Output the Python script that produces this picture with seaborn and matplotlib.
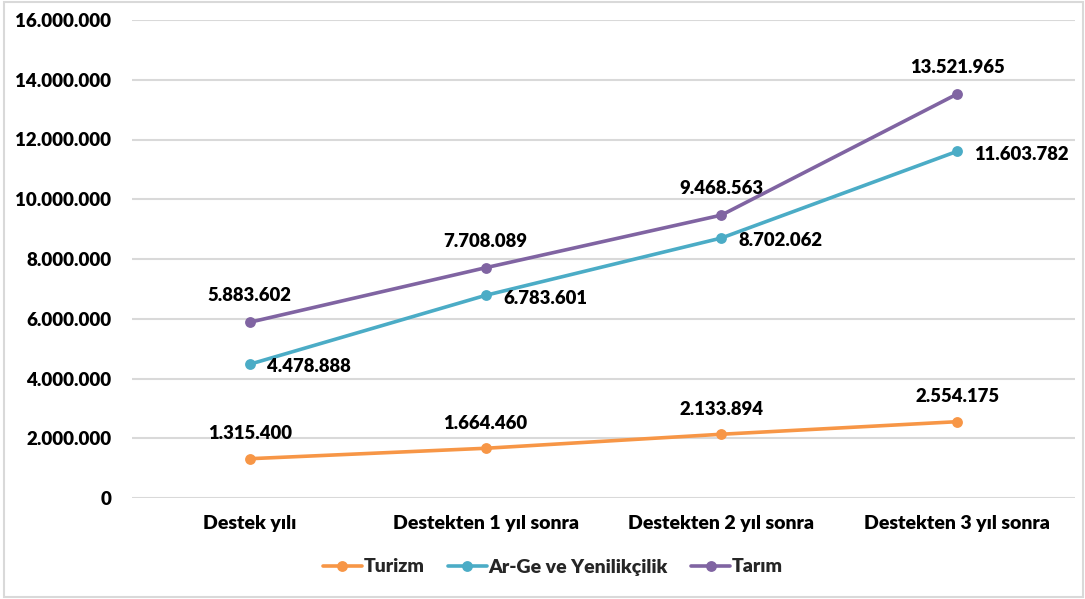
import matplotlib
matplotlib.use("Agg")
import matplotlib.pyplot as plt
import seaborn as sns
import pandas as pd
from matplotlib.patches import Rectangle
from matplotlib.ticker import FuncFormatter

categories = ["Destek yılı", "Destekten 1 yıl sonra", "Destekten 2 yıl sonra", "Destekten 3 yıl sonra"]
series_names = ["Turizm", "Ar-Ge ve Yenilikçilik", "Tarım"]
turizm = [1315400, 1664460, 2133894, 2554175]
arge = [4478888, 6783601, 8702062, 11603782]
tarim = [5883602, 7708089, 9468563, 13521965]
colors = ["#F79646", "#4BACC6", "#8064A2"]

def fmt(v):
    return f"{int(v):,}".replace(",", ".")

rows = []
for name, vals in zip(series_names, [turizm, arge, tarim]):
    for i, v in enumerate(vals):
        rows.append({"pos": i, "value": v, "series": name})
df = pd.DataFrame(rows)

sns.set_theme(style="white")
plt.rcParams["font.family"] = ["Lato", "DejaVu Sans"]
plt.rcParams["font.weight"] = "bold"
W = "heavy"

fig = plt.figure(figsize=(10.85, 5.99), dpi=100)
ax = fig.add_axes([132/1085, 1 - 498/599, (1075-132)/1085, (498-20)/599])

sns.lineplot(data=df, x="pos", y="value", hue="series", hue_order=series_names,
             palette=colors, marker="o", markersize=7.8, markeredgewidth=0,
             linewidth=2.6, ax=ax, legend=True)

ax.set_xlim(-0.5, 3.5)
ax.set_ylim(0, 16000000)
ax.set_yticks(range(0, 16000001, 2000000))
ax.yaxis.set_major_formatter(FuncFormatter(lambda v, p: fmt(v)))
ax.set_xticks(range(4))
ax.set_xticklabels(categories)
ax.set_xlabel("")
ax.set_ylabel("")
ax.tick_params(axis="both", length=0, colors="#000000")
ax.tick_params(axis="y", pad=15, labelsize=13.5)
ax.tick_params(axis="x", pad=12, labelsize=14)
for lab in ax.get_xticklabels() + ax.get_yticklabels():
    lab.set_fontweight(W)
ax.grid(axis="y", color="#D9D9D9", linewidth=1.5)
ax.set_axisbelow(True)
for s in ax.spines.values():
    s.set_visible(False)

# data labels
LS = 13.3
above_kw = dict(textcoords="offset points", ha="center", va="center",
                fontsize=LS, fontweight=W, color="#000000")
for i, v in enumerate(turizm):
    ax.annotate(fmt(v), (i, v), xytext=(0, 18), **above_kw)
for i, v in enumerate(tarim):
    ax.annotate(fmt(v), (i, v), xytext=(0, 19), **above_kw)
for i, v in enumerate(arge):
    ax.annotate(fmt(v), (i, v), xytext=(12.5, -2), textcoords="offset points",
                ha="left", va="center", fontsize=LS, fontweight=W, color="#000000")

leg = ax.legend(loc="center", ncol=3, frameon=False, fontsize=14, handlelength=2.0,
                columnspacing=1.2, handletextpad=0.1)
leg.set_bbox_to_anchor((553/1085, 1 - 567/599), transform=fig.transFigure)
for t in leg.get_texts():
    t.set_fontweight(W)

fig.patches.append(Rectangle((4/1085, 2/599), 1 - 6/1085, 1 - 4/599, transform=fig.transFigure,
                             fill=False, edgecolor="#D9D9D9", linewidth=1.5))

fig.savefig("out.png", dpi=100, facecolor="white")
